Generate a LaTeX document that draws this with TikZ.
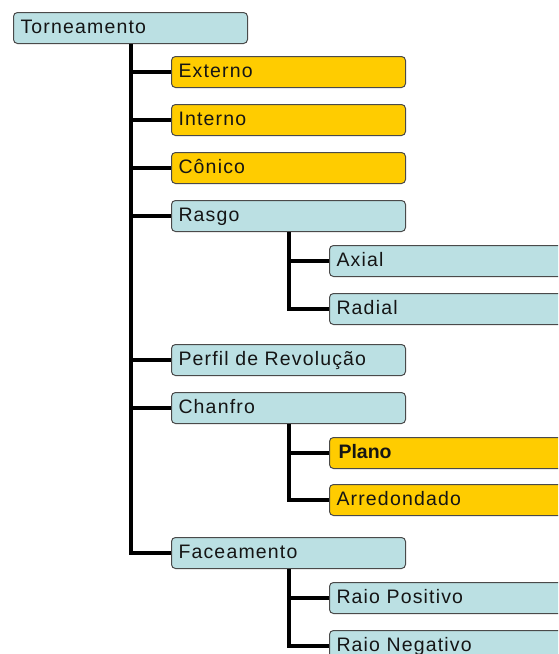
\documentclass[tikz,border=0pt]{standalone}
\usepackage{fontspec}
\setmainfont[LetterSpace=6]{Liberation Sans}
\newfontfamily\tightsans{Liberation Sans}
\definecolor{boxblue}{HTML}{BBE0E3}
\definecolor{boxgold}{HTML}{FFCC00}
\definecolor{boxline}{HTML}{4A4A4A}
\definecolor{txt}{HTML}{151515}
\begin{document}
\begin{tikzpicture}[x=1pt,y=-1pt,
  box/.style={draw=boxline, line width=1pt, rounded corners=4pt, anchor=north west,
    minimum height=31pt, inner xsep=7pt, inner ysep=0pt, align=left, text=txt,
    font=\fontsize{19.5}{22}\selectfont, text height=14pt, text depth=4pt},
  mainbox/.style={box, text width=220pt},
  subbox/.style={box, text width=250pt},
  blue/.style={fill=boxblue},
  gold/.style={fill=boxgold},
  conn/.style={line width=4pt, black, line join=miter}]
\clip (0,0) rectangle (558,654);
\fill[white] (0,0) rectangle (558,654);
\node[mainbox, blue] (root) at (13,12) {Torneamento};
\node[mainbox, gold] (ext) at (171,56) {Externo};
\node[mainbox, gold] (int) at (171,104) {Interno};
\node[mainbox, gold] (con) at (171,152) {Cônico};
\node[mainbox, blue] (ras) at (171,200) {Rasgo};
\node[subbox, blue] (axi) at (329,245) {Axial};
\node[subbox, blue] (rad) at (329,293) {Radial};
\node[mainbox, blue] (per) at (171,344) {Perfil de Revolução};
\node[mainbox, blue] (cha) at (171,392) {Chanfro};
\node[subbox, gold] (pla) at (329,437) {\hspace*{2pt}{\tightsans\bfseries Plano}};
\node[subbox, gold] (arr) at (329,484) {Arredondado};
\node[mainbox, blue] (fac) at (171,537) {Faceamento};
\node[subbox, blue] (rpo) at (329,582) {Raio Positivo};
\node[subbox, blue] (rne) at (329,630) {Raio Negativo};
\foreach \c in {ext,int,con,ras,per,cha,fac}
  \draw[conn] ([xshift=118pt]root.south west) |- (\c.west);
\foreach \c in {axi,rad}
  \draw[conn] ([xshift=118pt]ras.south west) |- (\c.west);
\foreach \c in {pla,arr}
  \draw[conn] ([xshift=118pt]cha.south west) |- (\c.west);
\foreach \c in {rpo,rne}
  \draw[conn] ([xshift=118pt]fac.south west) |- (\c.west);
\end{tikzpicture}
\end{document}
